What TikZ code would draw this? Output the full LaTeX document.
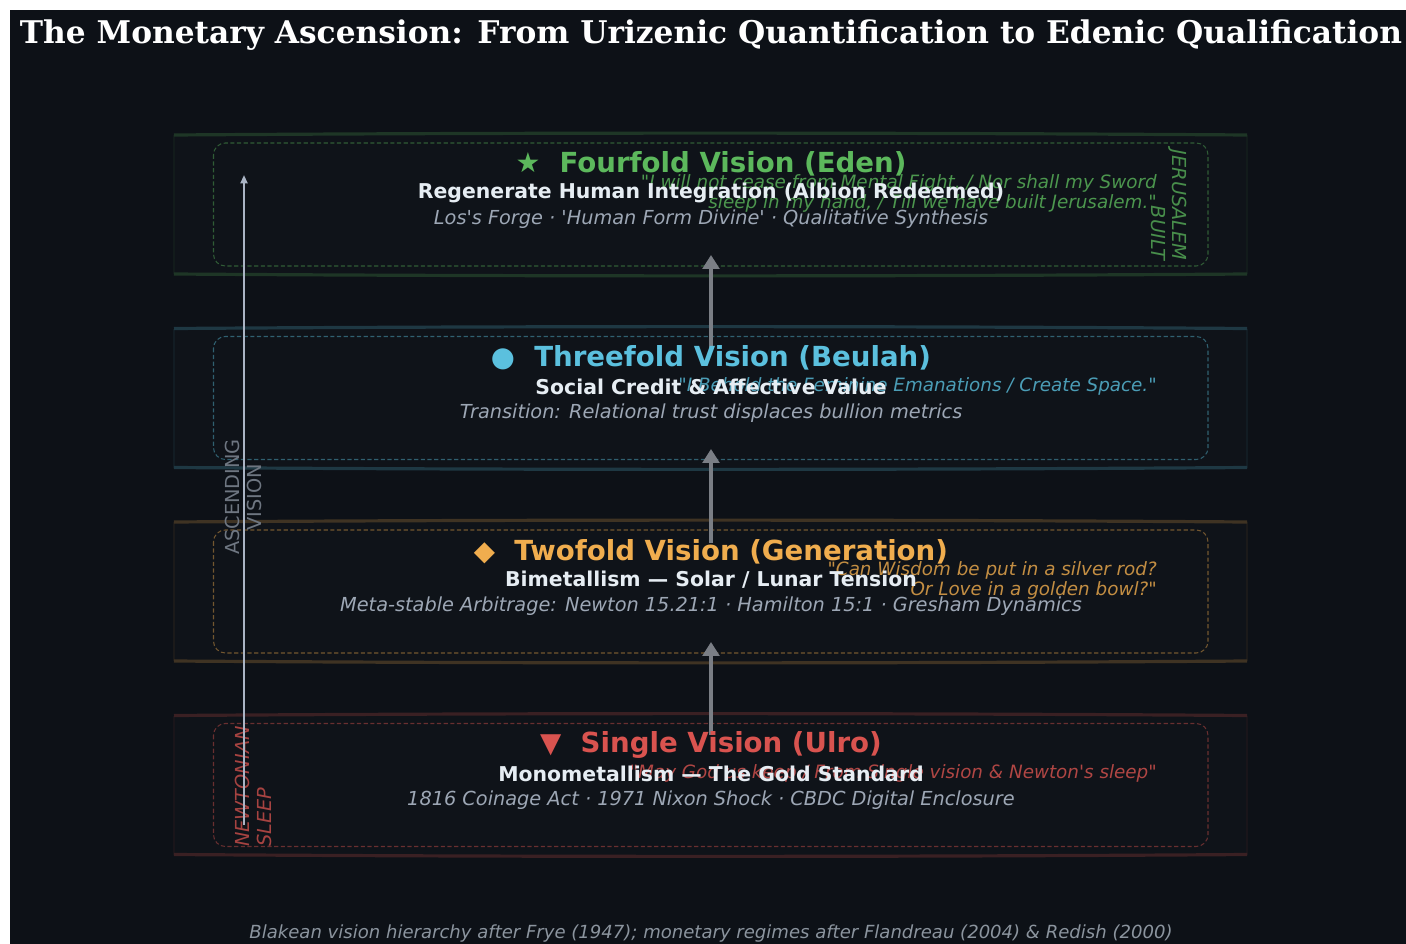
\documentclass[tikz,border=0pt]{standalone}
\usepackage{fontspec}
\setmainfont{DejaVu Sans}[Ligatures=TeXOff]
\newfontfamily\titlefont{DejaVu Serif}
\newfontfamily\symfont{DejaVu Sans}
\usetikzlibrary{arrows.meta}

\definecolor{bgdark}{HTML}{0D1117}
\definecolor{bandfill}{HTML}{0F1319}
\definecolor{eden}{HTML}{5CB85C}
\definecolor{beulah}{HTML}{5BC0DE}
\definecolor{gen}{HTML}{F0AD4E}
\definecolor{ulro}{HTML}{D9534F}
\definecolor{subtxt}{HTML}{E6EDF3}
\definecolor{dettxt}{HTML}{9DA7B5}
\definecolor{axiscol}{HTML}{AAB4C4}
\definecolor{conncol}{HTML}{7A7E85}
\definecolor{labgray}{HTML}{6E7681}
\definecolor{foot}{HTML}{8B949E}

\newcommand\tierframe[2]{%
  \fill[bandfill] (174,#1-69.5) .. controls (530,#1-72) and (890,#1-72) .. (1247,#1-69.5)
     -- (1247,#1+69.5) .. controls (890,#1+72) and (530,#1+72) .. (174,#1+69.5) -- cycle;
  \draw[#2!6!bgdark, line width=0.8pt] (174,#1-69.5) -- (174,#1+69.5);
  \draw[#2!6!bgdark, line width=0.8pt] (1247,#1-69.5) -- (1247,#1+69.5);
  \draw[#2!22!bgdark, line width=2.3pt] (174,#1-69.5) .. controls (530,#1-72) and (890,#1-72) .. (1247,#1-69.5);
  \draw[#2!22!bgdark, line width=2.3pt] (174,#1+69.5) .. controls (530,#1+72) and (890,#1+72) .. (1247,#1+69.5);
  \draw[#2!45!bgdark, line width=0.75pt, dash pattern=on 3pt off 1.8pt, rounded corners=8.5pt]
     (213.5,#1-61.5) rectangle (1208,#1+61.5);
}

\begin{document}
\begin{tikzpicture}[x=0.72pt,y=-0.72pt,
  heading/.style={font=\fontsize{19.9}{23}\selectfont\bfseries, inner sep=0pt},
  subline/.style={font=\fontsize{14.7}{17}\selectfont\bfseries, text=subtxt, inner sep=0pt},
  detail/.style={font=\fontsize{13.9}{16}\selectfont\itshape, text=dettxt, inner sep=0pt},
  quote/.style={font=\fontsize{13.2}{14.4}\selectfont\itshape, inner sep=0pt, anchor=east, align=right},
  vlabel/.style={font=\fontsize{13.9}{15.8}\selectfont, inner sep=0pt},
  vlabelit/.style={font=\fontsize{13.9}{15.8}\selectfont\itshape, inner sep=0pt},
  connector/.style={conncol, line width=2.2pt, -{Triangle[width=12pt,length=10pt]}},
  axisarrow/.style={axiscol, line width=1.4pt, -{Triangle[width=5pt,length=6pt]}}]

\useasboundingbox (0,0) rectangle (1406,944);
\fill[white] (0,0) rectangle (1406,944);
\fill[bgdark] (10,10) rectangle (1406,944);

% title
\node[font=\titlefont\bfseries\fontsize{22.5}{26}\selectfont, text=white, inner sep=0pt] (title) at (711,35)
  {The Monetary Ascension: From Urizenic Quantification to Edenic Qualification};

% frames
\tierframe{204.5}{eden}
\tierframe{398}{beulah}
\tierframe{591.5}{gen}
\tierframe{785}{ulro}

% connectors
\coordinate (ulroTop) at (711,735);
\coordinate (genBottom) at (711,642);
\coordinate (genTop) at (711,543);
\coordinate (beulahBottom) at (711,449);
\coordinate (beulahTop) at (711,348);
\coordinate (edenBottom) at (711,255);
\draw[connector] (ulroTop) -- (genBottom);
\draw[connector] (genTop) -- (beulahBottom);
\draw[connector] (beulahTop) -- (edenBottom);

% quotes (under subtitles)
\node[quote, text=eden!80!bgdark] (qEden) at (1157,193.5)
  {"I will not cease from Mental Fight, / Nor shall my Sword\\sleep in my hand, / Till we have built Jerusalem."};
\node[quote, text=beulah!80!bgdark] (qBeulah) at (1157,386.5)
  {"I Behold the Feminine Emanations / Create Space."};
\node[quote, text=gen!80!bgdark] (qGen) at (1157,580)
  {"Can Wisdom be put in a silver rod?\\Or Love in a golden bowl?"};
\node[quote, text=ulro!80!bgdark] (qUlro) at (1157,773.5)
  {"May God us keep / From Single vision \& Newton's sleep"};

% Eden
\node[heading, text=eden] (hEden) at (711,164) {{\symfont\mdseries ★}\ \ Fourfold Vision (Eden)};
\node[subline] (sEden) at (711,193) {Regenerate Human Integration (Albion Redeemed)};
\node[detail] (dEden) at (711,219) {Los's Forge · 'Human Form Divine' · Qualitative Synthesis};
\node[vlabelit, text=eden!75!bgdark, rotate=-90, align=right] (jeru) at (1169,205) {JERUSALEM\\BUILT};

% Beulah
\node[heading, text=beulah] (hBeulah) at (711,358) {{\symfont\mdseries ●}\ \ Threefold Vision (Beulah)};
\node[subline] (sBeulah) at (711,386.5) {Social Credit \& Affective Value};
\node[detail] (dBeulah) at (711,413) {Transition: Relational trust displaces bullion metrics};

% Generation
\node[heading, text=gen] (hGen) at (711,551.5) {{\symfont\mdseries ◆}\ \ Twofold Vision (Generation)};
\node[subline] (sGen) at (711,580) {Bimetallism — Solar / Lunar Tension};
\node[detail] (dGen) at (711,606.5) {Meta-stable Arbitrage: Newton 15.21:1 · Hamilton 15:1 · Gresham Dynamics};

% Ulro
\node[heading, text=ulro] (hUlro) at (711,745) {{\symfont\mdseries ▼}\ \ Single Vision (Ulro)};
\node[subline] (sUlro) at (711,773.5) {Monometallism — The Gold Standard};
\node[detail] (dUlro) at (711,800) {1816 Coinage Act · 1971 Nixon Shock · CBDC Digital Enclosure};

% side labels
\node[vlabel, text=labgray, rotate=90, align=center] (asc) at (243,497) {ASCENDING\\VISION};
\node[vlabelit, text=ulro!75!bgdark, rotate=90, align=left] (newt) at (253,786.5) {NEWTONIAN\\SLEEP};

% ascending axis
\coordinate (axisBottom) at (244,825);
\coordinate (axisTop) at (244,175);
\draw[axisarrow] (axisBottom) -- (axisTop);

% footer
\node[font=\fontsize{13}{15}\selectfont\itshape, text=foot, inner sep=0pt] (footer) at (711,934)
  {Blakean vision hierarchy after Frye (1947); monetary regimes after Flandreau (2004) \& Redish (2000)};
\end{tikzpicture}
\end{document}
